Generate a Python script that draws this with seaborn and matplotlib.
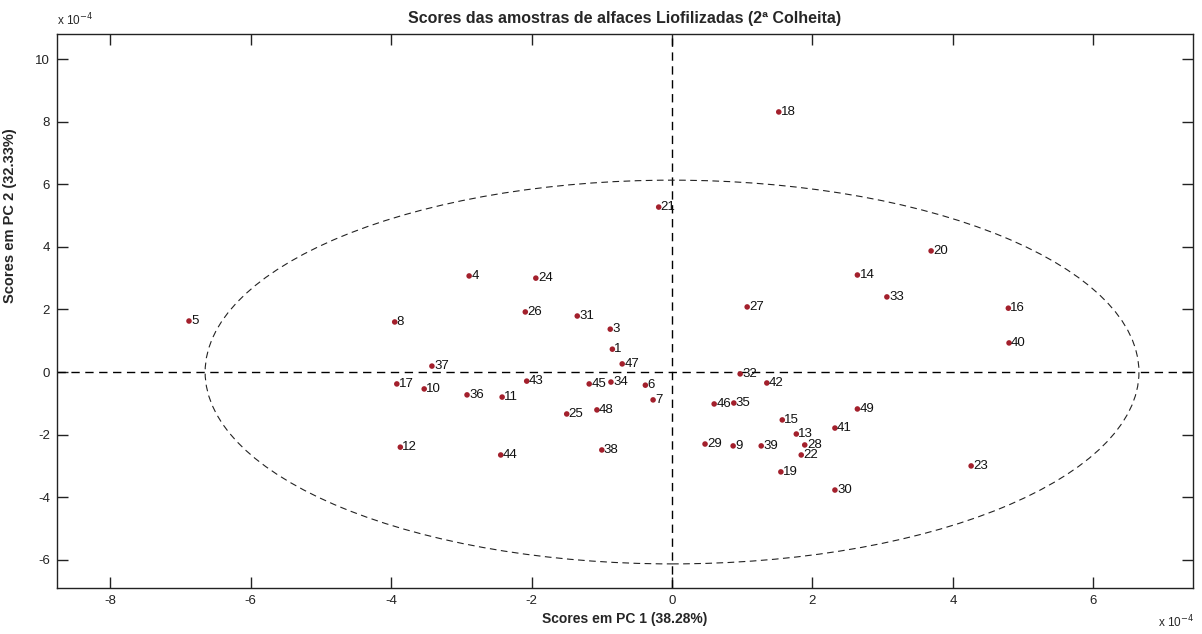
import matplotlib
matplotlib.use("Agg")
import matplotlib.pyplot as plt
from matplotlib.patches import Ellipse
import seaborn as sns
import pandas as pd

# Scores (units of 1e-4)
samples = [5, 8, 4, 24, 26, 31, 3, 1, 47, 37, 17, 10, 36, 11, 43, 45, 34, 6, 7,
           25, 48, 38, 44, 12, 21, 18, 27, 14, 20, 33, 16, 40, 32, 42, 46, 35,
           15, 13, 28, 22, 39, 9, 29, 19, 30, 41, 49, 23]
pc1 = [-6.88, -3.95, -2.89, -1.94, -2.09, -1.35, -0.88, -0.85, -0.71, -3.42,
       -3.92, -3.53, -2.92, -2.42, -2.07, -1.18, -0.87, -0.38, -0.27, -1.50,
       -1.07, -1.00, -2.44, -3.87, -0.19, 1.52, 1.07, 2.64, 3.69, 3.06, 4.79,
       4.80, 0.97, 1.35, 0.60, 0.88, 1.57, 1.77, 1.89, 1.84, 1.27, 0.87, 0.47,
       1.55, 2.32, 2.32, 2.64, 4.26]
pc2 = [1.63, 1.60, 3.07, 3.00, 1.92, 1.79, 1.37, 0.73, 0.26, 0.19, -0.38,
       -0.54, -0.73, -0.80, -0.29, -0.38, -0.32, -0.42, -0.89, -1.34, -1.21,
       -2.49, -2.65, -2.40, 5.27, 8.31, 2.08, 3.10, 3.87, 2.40, 2.04, 0.93,
       -0.06, -0.35, -1.02, -0.99, -1.53, -1.98, -2.33, -2.65, -2.36, -2.36,
       -2.30, -3.19, -3.77, -1.79, -1.18, -3.00]
ellipse_a = 6.65
ellipse_b = 6.13
xticks = [-8, -6, -4, -2, 0, 2, 4, 6]
yticks = [-6, -4, -2, 0, 2, 4, 6, 8, 10]

df = pd.DataFrame({"PC1": pc1, "PC2": pc2, "sample": samples})

sns.set_style("ticks")
plt.rcParams["font.family"] = ["Liberation Sans", "DejaVu Sans"]
plt.rcParams["axes.unicode_minus"] = False

fig = plt.figure(figsize=(12.02, 6.34), dpi=100)
ax = fig.add_axes([57 / 1202, 1 - 588 / 634, (1193 - 57) / 1202, (588 - 34) / 634])

ax.axhline(0, color="black", ls=(0, (6, 4)), lw=1.0, zorder=1)
ax.axvline(0, color="black", ls=(0, (6, 4)), lw=1.0, zorder=1)
ax.add_patch(Ellipse((0, 0), 2 * ellipse_a, 2 * ellipse_b, fill=False,
                     edgecolor="#222222", ls=(0, (6, 4)), lw=0.8, zorder=1))

sns.scatterplot(data=df, x="PC1", y="PC2", ax=ax, color="#a3202c", s=16,
                edgecolor="none", zorder=3, legend=False)
for x, y, s in zip(pc1, pc2, samples):
    ax.annotate(str(s), (x, y), xytext=(1.5, 0), textcoords="offset points",
                ha="left", va="center", fontsize=9.5, color="#111111")

ax.set_xlim(-8.76, 7.42)
ax.set_ylim(-6.9, 10.8)
ax.set_xticks(xticks)
ax.set_yticks(yticks)
ax.tick_params(direction="in", length=8, width=1, top=True, right=True,
               labelsize=9.5, pad=5, colors="#222222")
for sp in ax.spines.values():
    sp.set_linewidth(1.0)
    sp.set_color("#222222")

ax.set_xlabel("Scores em PC 1 (38.28%)", fontsize=10, fontweight="bold", labelpad=4)
ax.set_ylabel("Scores em PC 2 (32.33%)", fontsize=10.5, fontweight="bold")
ax.yaxis.set_label_coords((17 - 57) / 1136, (588 - 216) / 554)
ax.set_title("Scores das amostras de alfaces Liofilizadas (2ª Colheita)",
             fontsize=11.5, fontweight="bold", pad=8)

fig.text(57 / 1202, 1 - 20 / 634, r"x 10$^{-4}$", fontsize=8.5, ha="left", va="center")
fig.text(1158 / 1202, 1 - 622 / 634, r"x 10$^{-4}$", fontsize=8.5, ha="left", va="center")

fig.savefig("out.png", dpi=100)
